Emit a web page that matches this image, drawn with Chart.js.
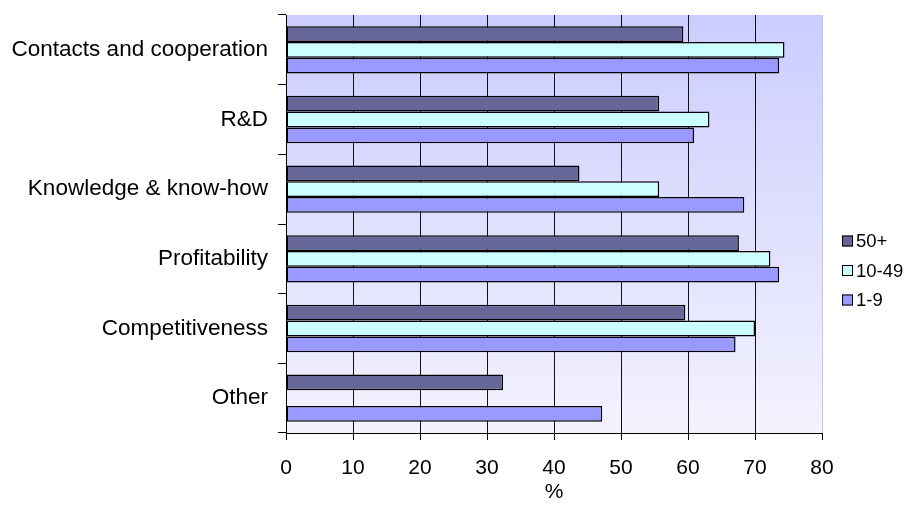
<!DOCTYPE html>
<html>
<head>
    <meta charset="utf-8" />
    <title>Chart</title>
    <script src="https://cdn.jsdelivr.net/npm/chart.js"></script>
    <style>
        body { margin: 0; background: #fff; }
        #wrap { width: 924px; height: 506px; }
    </style>
</head>
<body>
    <div id="wrap"><canvas id="myChart" width="924" height="506"></canvas></div>
    <script>
        // categories, top to bottom
        const categories = ['Contacts and cooperation', 'R&D', 'Knowledge & know-how', 'Profitability', 'Competitiveness', 'Other'];
        const seriesNames = ['50+', '10-49', '1-9'];
        const big = [59.3, 55.7, 43.8, 67.6, 59.6, 32.4];
        const medium = [74.4, 63.2, 55.7, 72.3, 70.0, null];
        const small = [73.6, 60.9, 68.4, 73.6, 67.1, 47.2];
        const xTicks = [0, 10, 20, 30, 40, 50, 60, 70, 80];

        const colors = ['#666699', '#ccffff', '#9999ff'];
        const font = 'Liberation Sans, Arial, sans-serif';

        // plot background, lavender at the top fading to near white
        const bgPlugin = {
            id: 'bg',
            beforeDraw(chart) {
                const { ctx, chartArea: a } = chart;
                const g = ctx.createLinearGradient(0, a.top, 0, a.bottom);
                g.addColorStop(0, '#ccccff');
                g.addColorStop(1, '#f3f3ff');
                ctx.save();
                ctx.fillStyle = g;
                ctx.fillRect(a.left, a.top, a.right - a.left, a.bottom - a.top);
                ctx.restore();
            }
        };

        // legend on the right, drawn from the datasets
        const legendPlugin = {
            id: 'sideLegend',
            afterDraw(chart) {
                const ctx = chart.ctx;
                const x = 842, y0 = 241, step = 29.5, box = 11;
                ctx.save();
                ctx.font = '18.5px ' + font;
                ctx.textBaseline = 'middle';
                chart.data.datasets.forEach((ds, i) => {
                    const y = y0 + i * step;
                    ctx.fillStyle = ds.backgroundColor;
                    ctx.fillRect(x, y - box / 2, box, box);
                    ctx.strokeStyle = '#000';
                    ctx.lineWidth = 1;
                    ctx.strokeRect(x + 0.5, y - box / 2 + 0.5, box - 1, box - 1);
                    ctx.fillStyle = '#000';
                    ctx.fillText(ds.label, x + 14, y + 1);
                });
                ctx.restore();
            }
        };

        const datasets = [big, medium, small].map((d, i) => ({
            label: seriesNames[i],
            data: d,
            backgroundColor: colors[i],
            borderColor: '#000',
            borderWidth: 1.5,
            borderSkipped: false,
            categoryPercentage: 0.68,
            barPercentage: 1.0
        }));

        const myChart = new Chart(document.getElementById('myChart'), {
            type: 'bar',
            data: { labels: categories, datasets: datasets },
            options: {
                indexAxis: 'y',
                responsive: false,
                animation: false,
                layout: { padding: { left: 10, right: 102, top: 15, bottom: 0 } },
                plugins: {
                    legend: { display: false },
                    tooltip: { enabled: false }
                },
                scales: {
                    y: {
                        type: 'category',
                        offset: true,
                        grid: { offset: true, drawOnChartArea: false, tickLength: 8, color: '#000', lineWidth: 1 },
                        border: { color: '#000', width: 1 },
                        ticks: { color: '#000', font: { family: font, size: 22.5 }, padding: 10 },
                        afterFit(s) { s.width = 276; s.paddingTop = 0; s.paddingBottom = 0; }
                    },
                    x: {
                        min: 0,
                        max: 80,
                        afterBuildTicks(s) { s.ticks = xTicks.map(v => ({ value: v })); },
                        grid: {
                            color: c => (c.tick && c.tick.value === 80 ? '#c4c4f4' : '#111'),
                            lineWidth: 1,
                            tickLength: 7,
                            tickColor: '#000'
                        },
                        border: { color: '#000', width: 1 },
                        ticks: { color: '#000', font: { family: font, size: 21 }, padding: 16, maxRotation: 0 },
                        title: { display: true, text: '%', color: '#000', font: { family: font, size: 21 }, padding: { top: 0, bottom: 1 } },
                        afterFit(s) { s.height = 73; }
                    }
                }
            },
            plugins: [bgPlugin, legendPlugin]
        });
    </script>
</body>
</html>
